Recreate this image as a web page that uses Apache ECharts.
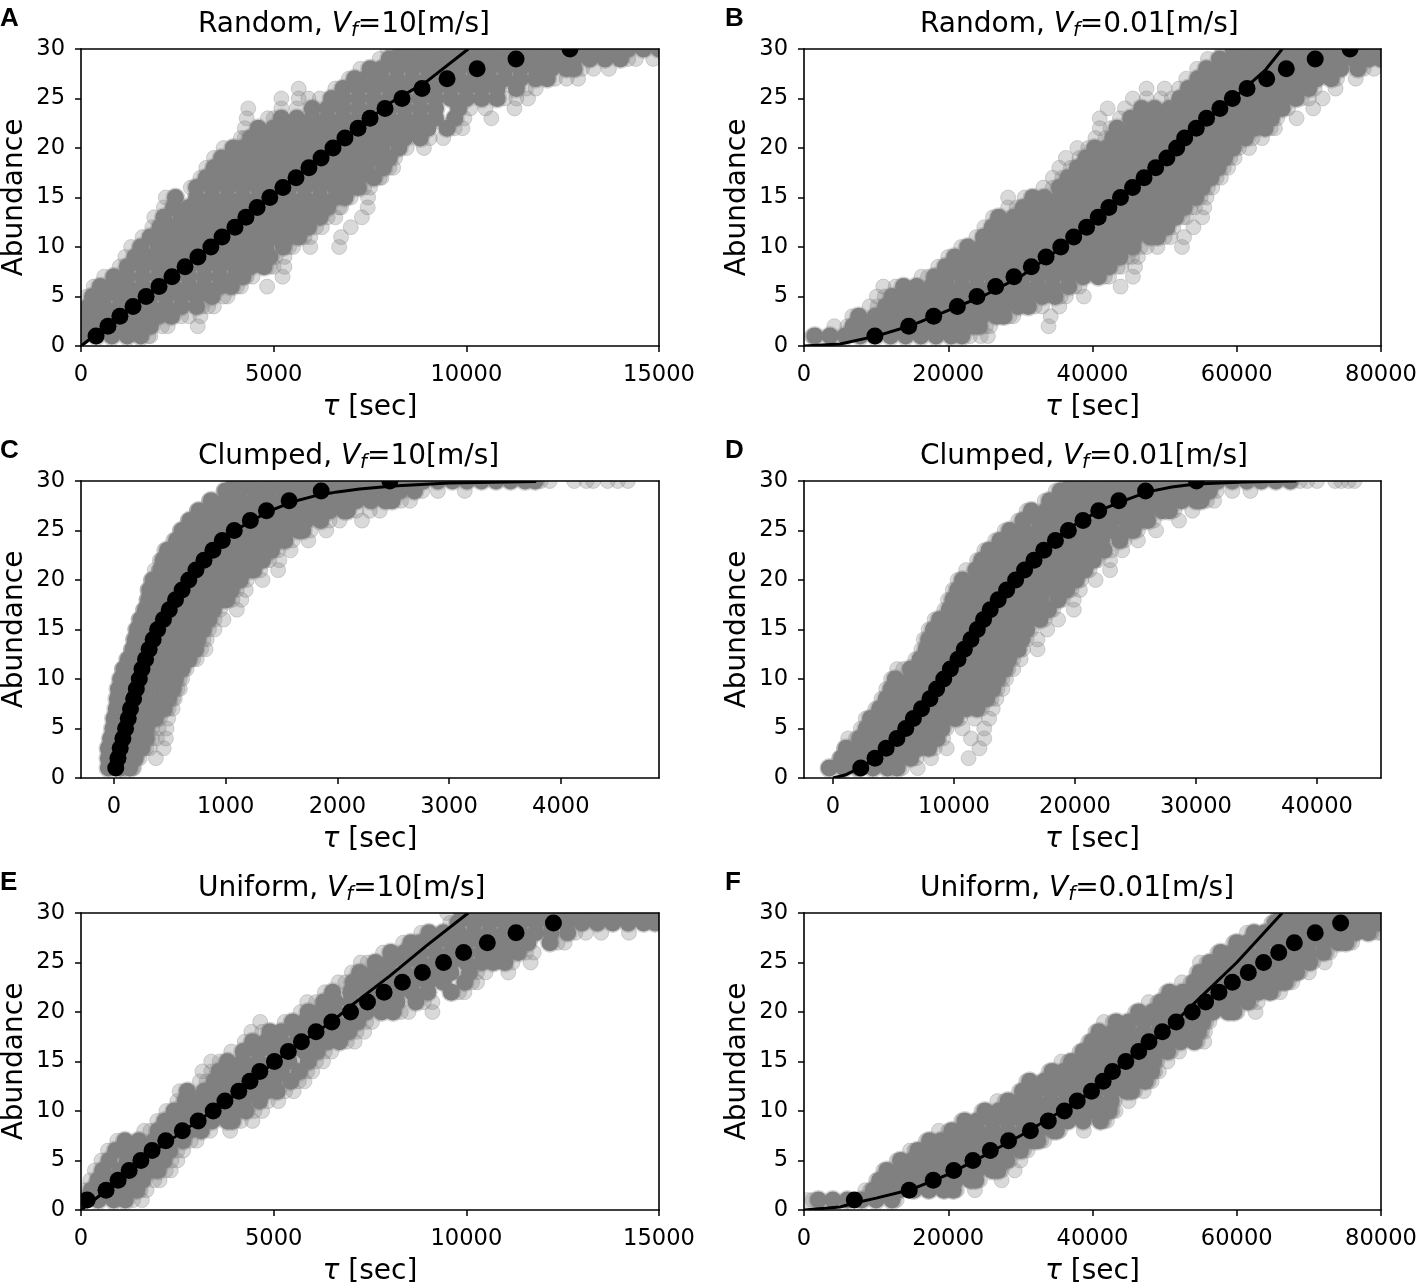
<!DOCTYPE html>
<html><head><meta charset="utf-8">
<style>html,body{margin:0;padding:0;background:#fff}#c{width:1416px;height:1283px}</style>
<script src="https://cdn.jsdelivr.net/npm/echarts@6/dist/echarts.min.js"></script>
</head><body><div id="c"></div>
<script>
// Each cloud array: index 0 = abundance 1 ... index 29 = abundance 30; values are tau [sec].
const randomFastCore=[
[0,400,800,1200,1550],[200,600,1000,1400,1800],[0,400,800,1200,1600,2000,2350],[200,600,1000,1400,1800,2200,2600,3000],
[300,600,1000,1400,1800,2200,2600,3000,3400],[500,800,1200,1600,2000,2400,2800,3200,3600,3900],[850,1200,1600,2000,2400,2800,3200,3600,4000,4200],
[1200,1600,2000,2400,2800,3200,3600,4000,4400,4750],[1400,1800,2200,2600,3000,3400,3800,4200,4600,4900],[1550,2000,2400,2800,3200,3600,4000,4400,4800,5250],
[1800,2200,2600,3000,3400,3800,4200,4600,5000,5400,5650],[2050,2400,2800,3200,3600,4000,4400,4800,5200,5600,5900],[2150,2600,3000,3400,3800,4200,4600,5000,5400,5800,6200],
[2400,2800,3200,3600,4000,4400,4800,5200,5600,6000,6400],[2450,3000,3400,3800,4200,4600,5000,5400,5800,6200,6600,6850],[3000,3400,3800,4200,4600,5000,5400,5800,6200,6600,7000,7200],
[3250,3600,4000,4400,4800,5200,5600,6000,6400,6800,7200,7600],[3450,3800,4200,4600,5000,5400,5800,6200,6600,7000,7400,7850],[3650,4000,4400,4800,5200,5600,6000,6400,6800,7200,7600,8000],
[3950,4200,4600,5000,5400,5800,6200,6600,7000,7400,7800,8250],[4400,4800,5200,5600,6000,6400,6800,7200,7600,8000,8400,8800],[4600,5000,5400,5800,6200,6600,7000,7400,7800,8200,8600,9000,9500],
[5200,5600,6000,6400,6800,7200,7600,8000,8400,8800,9200,9700],[6000,6400,6800,7200,7600,8000,8400,8800,9200,9800],[6500,6800,7200,7600,8000,8400,8800,9200,9600,10000,10400,10800],
[6800,7200,7600,8000,8400,8800,9200,9600,10000,10400,10800,11300],[7100,7400,7800,8200,8600,9000,9400,9800,10200,10600,11000,11400,11800,12100],[7500,7800,8200,8600,9000,9400,9800,10200,10600,11000,11400,11800,12200,12600,12800],
[8000,8400,8800,9200,9600,10000,10400,10800,11200,11600,12000,12400,12800,13200,13600,14000],[8300,8600,9000,9400,9800,10200,10600,11000,11400,11800,12200,12600,13000,13400,13800,14200,14600,15000]];
const randomFastFringe=[
[1750,1800],[2100,2250,3030],[2600,2800,3100],[3150,3300,3450],[150,3700,3800],[330,4050,4150,4830],[600,4300,4450,5230],[1000,4900,5000,5280],[1150,5050,5280],[1300,5400,5500,5950,6700],
[1600,5800,5950,6750],[1850,6100,6250,7000],[1900,6400,6600,7290],[2150,6700,6750,7440],[2200,7000,7450],[2850,7350,7500],[3100,7750,7800],[3250,8000,8100],[3450,3700,8150],[3700,4000,8450,8900],
[4150,4250,4900,9050,9400],[4250,4950,9700,9900],[4300,4850,5000,9950,10650],[4340,5200,5600,10100,10500,11250],[5200,5650,5900,6200,11000,11300,11600],[5650,6600,11550,11800],[6950,12300,12600,12900],[7250,13000,13300,13700],[7750,14200,14400,14850],[7950,8100]];
const randomFastMeans=[390,700,1010,1350,1690,2025,2360,2700,3035,3370,3660,3995,4280,4570,4900,5240,5580,5915,6230,6540,6850,7190,7500,7890,8330,8850,9500,10280,11290,12690];
const randomFastLineX=[0,1000,2000,3000,4000,5000,6000,7000,8000,9000,10050];
const randomFastLineY=[0,3,6,9,12,15.2,18.4,21.4,24.5,26.8,30];

const randomSlowCore=[
[1500,3600,5700,7800,9900,12000,14100,16200,18300,20400,21900],[6800,8700,10800,12900,15000,17100,19200,21300,23400,24300],[7600,9900,12000,14100,16200,18300,20400,22500,24600,26700,27700],
[11300,13000,15000,17100,19200,21300,23400,25500,27600,29700,31100],[12200,14100,16200,18300,20400,22500,24600,26700,28800,30900,33000,34800],[13800,15600,17700,19800,21900,24000,26100,28200,30300,32400,34500,36700],
[18100,19800,21900,24000,26100,28200,30300,32400,34500,36600,38700,40800],[19600,21300,23400,25500,27600,29700,31800,33900,36000,38100,40200,42300],[20900,22800,24900,27000,29100,31200,33300,35400,37500,39600,41700,43800],
[22700,24600,26700,28800,30900,33000,35100,37200,39300,41400,43500,45600],[24900,27000,29100,31200,33300,35400,37500,39600,41700,43800,45900,48000,49000],[26100,28200,30300,32400,34500,36600,38700,40800,42900,45000,47100,49200,50300],
[27000,29100,31200,33300,35400,37500,39600,41700,43800,45900,48000,50100,51500],[30400,32400,34500,36600,38700,40800,42900,45000,47100,49200,51300,52700],[31700,33300,35400,37500,39600,41700,43800,45900,48000,50100,52200,54300],
[35400,37200,39300,41400,43500,45600,47700,49800,51900,54000,55200],[36600,38400,40500,42600,44700,46800,48900,51000,53100,55200,56400],[37900,39600,41700,43800,45900,48000,50100,52200,54300,56400,57400],
[39100,40800,42900,45000,47100,49200,51300,53400,55500,57600,58300],[40300,42000,44100,46200,48300,50400,52500,54600,56700,58800,59500],[42800,44400,46500,48600,50700,52800,54900,57000,59100,61200],
[43400,45600,47700,49800,51900,54000,56100,58200,60300,62400,63900],[45300,46800,48900,51000,53100,55200,57300,59400,61500,63600,64800],[46800,48600,50700,52800,54900,57000,59100,61200,63300,65400,66300],
[52100,53700,55800,57900,60000,62100,64200,66300,68200],[53300,55200,57300,59400,61500,63600,65700,67800,70000],[54600,56400,58500,60600,62700,64800,66900,69000,71100,73100],
[55800,57600,59700,61800,63900,66000,68100,70200,72300,74400,76800],[57600,59400,61500,63600,65700,67800,69900,72000,74100,76200,78300,80000],[59500,61200,63300,65400,67500,69600,71700,73800,75900,78000,80000]];
const randomSlowFringe=[
[1100,23000,24500,25500],[4200,6000,25200,25800,33900],[6700,28500,29000,34200],[9100,10200,32000,33000,35400],[10100,11200,35600,36300,38800],[11000,12700,37500,38200,43900],[16300,17200,41700,42300,45600],[18600,43500,44000,45900],[20000,44900,45500,46300],[21800,46700,47500,49000,52400],
[23900,50000,50800,52700],[25000,51200,54000],[26200,52500,53000,55200],[28300,29500,53600,54200,55500],[28300,30600,55000,55800],[33200,34500,56000,56600],[34500,35800,57200,57800],[35400,37000,58200,58800],[36300,38200,59100,59700],[37900,39400,60300,61700],
[40400,41800,62200,63500],[41000,42500,64700,65300],[41000,43800,65600,68300],[42100,44500,67100,70600],[45600,47500,49500,51000,69000,70000,71900],[47500,50000,52000,70800,73700],[53000,73900,76500],[54500,77600,79000],[56000],[58000]];
const randomSlowMeans=[9830,14520,17980,21260,23980,26570,29110,31520,33560,35600,37390,39180,40790,42270,43880,45550,47150,48760,50310,51670,52780,54380,55810,57660,59390,61430,64150,66870,70880,75710];
const randomSlowLineX=[0,5000,10000,15000,20000,25000,30000,35000,40000,45000,50000,55000,60000,62000,64000,66300];
const randomSlowLineY=[0,0.2,1,2.1,3.6,5.1,7,9.6,12.6,15.6,19,22.3,25.3,26.6,27.9,30];

const clumpedFastCore=[
[-50,60,140],[-50,80,190],[-50,70,190,250],[-30,90,210,290],[-10,110,230,290],[0,130,260,370],[20,150,280,410,450],[30,170,300,430,490],[40,170,300,430,530],[60,190,320,450,550],
[90,220,350,480,610],[130,260,390,520,650,670],[170,300,430,560,690,730],[190,320,450,580,710,750],[210,340,470,600,730,800],[240,370,500,630,760,850],[280,410,540,670,800,890],[310,440,570,700,830,960,1010],[320,450,580,710,840,970,1050],[350,480,610,740,870,1000,1130],
[420,550,680,810,940,1070,1200,1250],[440,570,700,830,960,1090,1220,1330],[480,610,740,870,1000,1130,1260,1390,1410],[560,690,820,950,1080,1210,1340,1470,1530],[610,740,870,1000,1130,1260,1390,1520,1650,1690],[680,810,940,1070,1200,1330,1460,1590,1720,1850],
[760,890,1020,1150,1280,1410,1540,1670,1800,1930,2060,2090],[870,1000,1130,1260,1390,1520,1650,1780,1910,2040,2170,2300,2430,2490],[1000,1130,1260,1390,1520,1650,1780,1910,2040,2170,2300,2430,2560,2690],
[1080,1210,1340,1470,1600,1730,1860,1990,2120,2250,2380,2510,2640,2770,2900,3030,3160,3290,3420,3550,3680,3770]];
const clumpedFastFringe=[
[170,180],[230,375],[290,320,445],[340,385,465],[340,400,470],[410,485],[490,525],[530,545],[570,590],[590,610],
[70,650],[110,710,740],[150,780,820],[170,800,830],[190,850,900],[220,900,980],[260,950,1100],[290,1060,1140],[300,1100,1180],[330,1190,1330],
[365,400,1310,1470],[410,1390,1480],[450,1470,1580],[530,1600,1740],[590,1760,1900],[660,1930,2020,2220],[740,2170,2290,2380],[850,2570,2650],[980,2760,2900,3140],[3820,3900,4120,4230,4290,4420,4510,4600]];
const clumpedFastMeans=[16,36,56,80,104,128,148,176,200,227,251,283,315,351,391,443,495,551,610,670,734,806,886,970,1077,1221,1365,1568,1855,2470];
const clumpedFastLineX=[10,100,200,300,400,500,600,700,800,1000,1200,1400,1600,1800,2000,2200,2500,3000,3780];
const clumpedFastLineY=[0.8,4.5,8.8,12.4,15.5,17.8,19.6,20.9,22.3,24.3,25.8,27,27.9,28.5,28.9,29.2,29.5,29.8,29.95];

const clumpedSlowCore=[
[-300,900,2100,3300,4500,5300],[700,1700,2900,4100,5300,6400],[1100,2300,3500,4700,5900,7100,7900],[2200,3200,4400,5600,6800,8000,8600],[2750,3800,5000,6200,7400,8600,9000],[3100,4400,5600,6800,8000,9200,10100],
[3850,5000,6200,7400,8600,9800,11000,11900],[4400,5600,6800,8000,9200,10400,11600,12700],[4800,6000,7200,8400,9600,10800,12000,13200],[5150,6400,7600,8800,10000,11200,12400,13600],[6400,7000,8200,9400,10600,11800,13000,14200],[7200,8400,9600,10800,12000,13200,14500],
[7700,8800,10000,11200,12400,13600,14800,15300],[7900,9200,10400,11600,12800,14000,15200,15600],[8300,9600,10800,12000,13200,14400,15600,16000],[8800,10000,11200,12400,13600,14800,16000,17100],[9600,10800,12000,13200,14400,15600,16800,17800],[9900,11200,12400,13600,14800,16000,17200,18600],
[10300,11600,12800,14000,15200,16400,17600,18800,19300],[10700,12000,13200,14400,15600,16800,18000,19200,20100],[11800,12800,14000,15200,16400,17600,18800,20000,20800],[12300,13600,14800,16000,17200,18400,19600,20800,21500],[12900,14000,15200,16400,17600,18800,20000,21200,22400],[13800,15000,16200,17400,18600,19800,21000,22200,23700],
[14600,15800,17000,18200,19400,20600,21800,23000,24200,24800],[15700,17000,18200,19400,20600,21800,23000,24200,25400,26000],[16400,17600,18800,20000,21200,22400,23600,24800,26000,27200,27800],[17900,19200,20400,21600,22800,24000,25200,26400,27600,28800,30000,30400],[18800,20000,21200,22400,23600,24800,26000,27200,28400,29600,30800,31100],
[19700,21000,22200,23400,24600,25800,27000,28200,29400,30600,31800,33000,34200,35400,36600,37800]];
const clumpedSlowFringe=[
[-400,5700,7000],[500,6900,8100,11200],[900,8400,9400,12100],[1250,1900,9100,11400,12500],[2300,9400,10700,12500],[2700,10500,11700,12900],[3500,12300,13200],[4000,13100,13500],[4400,13600,14000],[4800,14000,14300],
[5300,5800,14500,14900],[6800,14900,15500],[7300,15700,16900],[7500,16000,16900],[7900,16400,17700],[8400,17500,18600],[9200,18200,19900],[9500,19000,19900],[9900,19700,20400],[10300,20500,21700],
[11000,21200,22900],[11900,21900,22900],[12500,23000,23900],[13400,24100,25200],[14200,25200,26700],[15300,26500,28600],[16000,28200,29700],[17500,30900,31500],[18400,31700,33000,34500],[19300,38600,39200,40000,41500,42000,42600,43100]];
const clumpedSlowMeans=[2290,3470,4390,5280,6010,6640,7310,8010,8560,9150,9700,10330,10850,11400,11920,12440,12990,13650,14350,15090,15830,16610,17420,18380,19450,20660,21960,23620,25830,30040];
const clumpedSlowLineX=[0,1000,2000,3000,4000,5000,6000,7000,8000,9000,10000,11000,12000,13000,14000,15000,16000,17000,18000,19000,20000,22000,24000,26000,28000,30000,34000,38300];
const clumpedSlowLineY=[0,0.3,0.9,1.6,2.7,3.8,5,6.5,8,9.7,11.5,13.3,15,17,18.8,20,21.5,22.5,23.7,24.8,25.6,27,28,28.9,29.4,29.7,29.9,30];

const uniformFastCore=[
[50,450,850,1150],[270,650,1050,1450],[440,800,1200,1600],[560,1000,1400,1800,2000],[730,1200,1600,2000,2150],[900,1300,1700,2100,2300],[1140,1500,1900,2300,2650],[2000,2400,2800,3120],[2180,2600,3000,3400,3800,3930],[2420,2800,3200,3600,4000,4280],
[2700,3000,3400,3800,4200,4630],[2760,3200,3600,4000,4400,4800,5090],[3460,3800,4200,4600,5000,5440],[3580,4000,4400,4800,5200,5670],[3800,4200,4600,5000,5400,5900],[4210,4600,5000,5400,5800,6130],[4450,4800,5200,5600,6000,6400,6710],[4900,5200,5600,6000,6400,6800,6950],[5490,5800,6200,6600,7000,7180],[5900,6200,6600,7000,7400,7800,8100],
[6300,6600,7000,7400,7800,8200,8690],[6530,7000,7400,7800,8200,8600,9000,9610],[7060,7400,7800,8200,8600,9000,9400,9960],[7230,7600,8000,8400,8800,9200,9600,10080],[7640,8000,8400,8800,9200,9600,10000,10400,10700,11000],[8040,8400,8800,9200,9600,10000,10400,10800,11100,11350],[8560,8800,9200,9600,10000,10400,10800,11200,11600,12170],[9030,9400,9800,10200,10600,11000,11400,11800,12200,12630],[9780,10200,10600,11000,11400,11800,12200,12600,13000,13400,13800,14200,14600,14900],[9900,10300,10700,11100,11500,11900,12300,12700,13100,13500,13900,14300,14700,15000]];
const uniformFastFringe=[
[1350,1580],[70,1550,1700],[240,1900,2040],[360,2200,2330],[530,2350,2500],[700,2500,2650],[940,2850,3000],[1640,1800,3350,3870],[1980,4150,4450],[2215,4500,4700],
[2500,4850,5120],[2560,5300,5520],[3085,3260,5650,5800],[3150,3380,5870,6000],[3380,3600,6100,6280],[3900,6330,6500],[4250,6900,7100],[4420,4700,7150,7350],[4650,5290,7400,7550],[5700,8300,8500,9120],
[5870,6100,8900,9120],[6330,9810,9950],[6680,6860,10150,10280],[7030,10280,10500,11090],[7260,7440,11200,11670],[7840,11550,11750],[8360,12370,12550],[8830,12830,13100,13500,14220],[9580],[9500]];
const uniformFastMeans=[160,650,963,1250,1554,1844,2200,2630,3040,3430,3735,4095,4385,4640,5020,5380,5720,6100,6510,6995,7435,7865,8340,8860,9410,9930,10545,11290,12260];
const uniformFastLineX=[0,1000,2000,3000,4000,5000,6000,6500,7000,8000,9000,10050];
const uniformFastLineY=[0,3,6.2,8.9,11.6,14.9,17.7,19,20.6,23.6,26.8,30];

const uniformSlowCore=[
[2000,4000,6000,8000,10000,12200],[9600,11000,13100,15200,17300,19400,20700],[10500,12600,14700,16800,18900,21000,23100,23800],[11500,13500,15600,17700,19800,21900,24000,26100,26900],[13400,15000,17100,19200,21300,23400,25500,27600,28100],[15800,17500,19600,21700,23800,25900,28000,30000],
[17400,19000,21100,23200,25300,27400,29500,31600,32400],[20500,22000,24100,26200,28300,30400,32500,34600,35000],[22300,24000,26100,28200,30300,32400,34500,36600,38700,41100],[25100,27000,29100,31200,33300,35400,37500,39600,41700,42300],[28300,30000,32100,34200,36300,38400,40500,42600],[30300,32100,34200,36300,38400,40500,42600,44700,45400],
[31300,33300,35400,37500,39600,41700,43800,45900,47300],[34400,36000,38100,40200,42300,44400,46500,48200],[37100,38700,40800,42900,45000,47100,48500],[38700,40500,42600,44700,46800,48900,50400],[39900,41700,43800,45900,48000,50100,52200,54100],[40900,42900,45000,47100,49200,51300,53400,54700],
[43300,45000,47100,49200,51300,53400,55300],[46400,48300,50400,52500,54600,56700,58800,59600],[49500,51000,53100,55200,57300,59400,61500],[50700,52500,54600,56700,58800,60900,63000,64600],[54100,55500,57600,59700,61800,63900,66000,66700],[54900,56700,58800,60900,63000,65100,67200,68300],
[56300,57900,60000,62100,64200,66300,68400,70100],[57800,59400,61500,63600,65700,67800,69900,72000],[60000,61500,63600,65700,67800,69900,72000,74100,75100],[62400,63900,66000,68100,70200,72300,74400,76500,78200],[65300,67000,69100,71200,73300,75400,77500,79600],[66200,68000,70100,72200,74300,76400,78500,80000]];
const uniformSlowFringe=[
[500,1200,12850],[8500,9150,21200,23700],[10000,24400,27400],[11000,27400,29200],[12850,28600,30000],[14700,15300,30500,31000],[16900,32900,33300],[18700,20000,35500,38800],[21800,41600,42000],[24600,42800,43200],
[26800,27800,43100,45000],[29800,45900,47100],[30800,47800,48200],[33900,48700,49200],[35700,36600,49000,50400],[38200,50900,52000],[39400,54600,55500],[40400,55200,55600],[41600,42800,55800,56200],[45900,60100,62600],
[47800,49000,62000,62900],[50200,65100,66000],[52400,53600,67200,67700],[54400,68800,70000],[54900,55800,70600,72200],[57300,72500,72900],[59500,75600,76000],[61400,78700,79500,80000],[64800],[65700]];
const uniformSlowMeans=[6980,14585,17920,20765,23420,25830,28365,31390,33870,36090,37880,39860,41470,42770,44620,46410,47830,49690,51600,53830,55680,57530,59390,61600,63720,65820,67980,70880,74400];
const uniformSlowLineX=[0,5000,7000,10000,15000,20000,25000,30000,35000,40000,45000,50000,55000,60000,66300];
const uniformSlowLineY=[0,0.3,0.7,1.2,2.1,3.6,5.5,7.5,9.7,12,15.2,18,21.5,25,30];

const yTicks=[0,5,10,15,20,25,30];
const panelLetters=['A','B','C','D','E','F'];
const panelNames=['Random','Random','Clumped','Clumped','Uniform','Uniform'];
const panelSpeeds=['10','0.01','10','0.01','10','0.01'];
const xRanges=[[0,15000],[0,80000],[-295,4879],[-2400,45290],[0,15000],[0,80000]];
const xTicks=[[0,5000,10000,15000],[0,20000,40000,60000,80000],[0,1000,2000,3000,4000],[0,10000,20000,30000,40000],[0,5000,10000,15000],[0,20000,40000,60000,80000]];
const cores=[randomFastCore,randomSlowCore,clumpedFastCore,clumpedSlowCore,uniformFastCore,uniformSlowCore];
const fringes=[randomFastFringe,randomSlowFringe,clumpedFastFringe,clumpedSlowFringe,uniformFastFringe,uniformSlowFringe];
const means=[randomFastMeans,randomSlowMeans,clumpedFastMeans,clumpedSlowMeans,uniformFastMeans,uniformSlowMeans];
const lineXs=[randomFastLineX,randomSlowLineX,clumpedFastLineX,clumpedSlowLineX,uniformFastLineX,uniformSlowLineX];
const lineYs=[randomFastLineY,randomSlowLineY,clumpedFastLineY,clumpedSlowLineY,uniformFastLineY,uniformSlowLineY];

const FONT='DejaVu Sans';
const cols=[{l:81,w:578},{l:804,w:577}];
const rows=[49,481,913];
const grids=[],xAxes=[],yAxes=[],series=[],titles=[],masks=[];
const flatten=a=>{const o=[];a.forEach((r,i)=>r.forEach(x=>o.push([x,i+1])));return o;};
const spine={show:true,onZero:false,lineStyle:{color:'#000',width:1.6}};
for(let i=0;i<6;i++){
  const c=cols[i%2],top=rows[Math.floor(i/2)];
  grids.push({left:c.l,top:top,width:c.w,height:297,outerBoundsMode:'none'});
  const tickStyle={show:true,length:6,lineStyle:{color:'#000',width:1.5},customValues:xTicks[i]};
  xAxes.push({gridIndex:i,type:'value',position:'bottom',min:xRanges[i][0],max:xRanges[i][1],z:10,splitLine:{show:false},
    axisLine:spine,axisTick:tickStyle,
    axisLabel:{customValues:xTicks[i],color:'#000',fontFamily:FONT,fontSize:22.6,margin:18,formatter:v=>String(v)},
    name:'{t|τ} [sec]',nameLocation:'middle',nameGap:48,
    nameTextStyle:{color:'#000',fontFamily:FONT,fontSize:28,rich:{t:{fontFamily:FONT,fontStyle:'italic',fontSize:28,color:'#000'}}}});
  xAxes.push({gridIndex:i,type:'value',position:'top',min:xRanges[i][0],max:xRanges[i][1],z:10,splitLine:{show:false},axisLine:spine,axisTick:{show:false},axisLabel:{show:false}});
  yAxes.push({gridIndex:i,type:'value',position:'left',min:0,max:30,z:10,splitLine:{show:false},
    axisLine:spine,axisTick:{show:true,length:6,lineStyle:{color:'#000',width:1.5},customValues:yTicks},
    axisLabel:{customValues:yTicks,color:'#000',fontFamily:FONT,fontSize:22.6,margin:16,padding:[4,0,0,0]},
    name:'Abundance',nameLocation:'middle',nameGap:52,nameTextStyle:{color:'#000',fontFamily:FONT,fontSize:28}});
  yAxes.push({gridIndex:i,type:'value',position:'right',min:0,max:30,z:10,splitLine:{show:false},axisLine:spine,axisTick:{show:false},axisLabel:{show:false}});
  const xi=i*2,yi=i*2;
  const base={type:'scatter',xAxisIndex:xi,yAxisIndex:yi,silent:true,animation:false,clip:true,large:false};
  series.push({...base,symbolSize:15,data:flatten(fringes[i]),z:2,itemStyle:{color:'#808080',opacity:0.3,borderColor:'#808080',borderWidth:1}});
  series.push({...base,symbolSize:17,data:flatten(cores[i]),z:3,itemStyle:{color:'#808080',opacity:1,borderColor:'rgba(128,128,128,0.35)',borderWidth:3}});
  series.push({type:'line',xAxisIndex:xi,yAxisIndex:yi,data:lineXs[i].map((x,k)=>[x,lineYs[i][k]]),showSymbol:false,silent:true,animation:false,clip:true,z:4,lineStyle:{color:'#000',width:3}});
  series.push({...base,symbolSize:17,data:means[i].map((x,k)=>[x,k+1]),z:5,itemStyle:{color:'#000',opacity:1}});
  titles.push({text:panelNames[i]+', {v|V}{f|f}='+panelSpeeds[i]+'[m/s]',left:i%2?920:198,top:top-40,padding:0,z:12,
    textStyle:{color:'#000',fontFamily:FONT,fontSize:28,fontWeight:'normal',
      rich:{v:{fontFamily:FONT,fontStyle:'italic',fontSize:28,color:'#000'},f:{fontFamily:FONT,fontStyle:'italic',fontSize:19.6,color:'#000',padding:[12,0,0,0]}}}});
  titles.push({text:panelLetters[i],left:i%2?725:0,top:top-43,padding:0,z:12,textStyle:{color:'#000',fontFamily:'Liberation Sans',fontWeight:'bold',fontSize:26}});
  // white bands that trim markers at the plot frame, as the reference's axes clip do
  const B=12,h=297;
  [[c.l-B,top-B,c.w+2*B,B],[c.l-B,top+h,c.w+2*B,B],[c.l-B,top-B,B,h+2*B],[c.l+c.w,top-B,B,h+2*B]].forEach(r=>{
    masks.push({type:'rect',silent:true,z:6,shape:{x:r[0],y:r[1],width:r[2],height:r[3]},style:{fill:'#fff'}});
  });
}
const chart=echarts.init(document.getElementById('c'),null,{renderer:'canvas'});
chart.setOption({animation:false,backgroundColor:'#fff',title:titles,grid:grids,xAxis:xAxes,yAxis:yAxes,series:series,graphic:{elements:masks},tooltip:{show:false},legend:{show:false}});
</script></body></html>
